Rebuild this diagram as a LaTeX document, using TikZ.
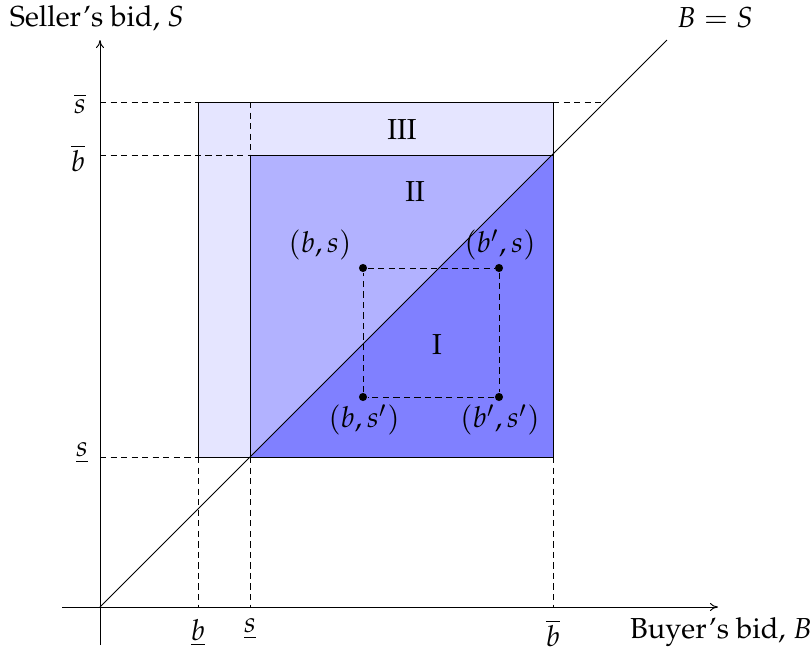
\documentclass[tikz,border=0pt]{standalone}
\usepackage[T1]{fontenc}
\usepackage{mathpazo}
\usetikzlibrary{arrows.meta}
\begin{document}
\begin{tikzpicture}[x=0.37pt,y=-0.37pt,
  font=\fontsize{10.7}{13}\selectfont,
  axis/.style={-{To[length=3pt,width=3pt]},line width=0.35pt},
  guide/.style={dashed,dash pattern=on 2.3pt off 1.6pt,line width=0.35pt},
  edge/.style={line width=0.35pt},
  dot/.style={circle,fill=black,inner sep=0pt,minimum size=3pt},
  lbl/.style={inner sep=1pt}]
\useasboundingbox (0,0) rectangle (810,650);
% key points
\coordinate (O) at (100,607);
\coordinate (sbarY) at (100,102);
\coordinate (bbarY) at (100,155);
\coordinate (sundY) at (100,457);
\coordinate (A1) at (198,102);
\coordinate (A2) at (553,102);
\coordinate (A3) at (553,457);
\coordinate (A4) at (198,457);
\coordinate (B1) at (250,155);
\coordinate (B2) at (553,155);
\coordinate (B4) at (250,457);
\coordinate (C1) at (250,102);
\coordinate (D1) at (605,102);
\coordinate (xb) at (198,607);
\coordinate (xs) at (250,607);
\coordinate (xB) at (553,607);
\coordinate (Lend) at (667,40);
% regions
\fill[blue!10] (A1) rectangle (A3);
\fill[blue!30] (B1) rectangle (A3);
\fill[blue!50] (B4) -- (B2) -- (A3) -- cycle;
\draw[edge] (A1) rectangle (A3);
\draw[edge] (B1) rectangle (A3);
% diagonal
\draw[edge] (O) -- (Lend);
% axes
\draw[axis] (62,607) coordinate (xs0) -- (718,607) coordinate (xe);
\draw[axis] (100,645) coordinate (ys0) -- (100,40) coordinate (ye);
% guides
\draw[guide] (sbarY) -- (A1);
\draw[guide] (A2) -- (D1);
\draw[guide] (bbarY) -- (B1);
\draw[guide] (C1) -- (B1);
\draw[guide] (sundY) -- (A4);
\draw[guide] (A4) -- (xb);
\draw[guide] (B4) -- (xs);
\draw[guide] (A3) -- (xB);
% inner dashed rectangle
\node[dot] (p1) at (363,268) {};
\node[dot] (p2) at (499,268) {};
\node[dot] (p3) at (499,397) {};
\node[dot] (p4) at (363,397) {};
\draw[guide] (p1) -- (p2) -- (p3) -- (p4) -- (p1);
% region labels
\node[lbl] (r3) at (402,130) {III};
\node[lbl] (r2) at (415,192) {II};
\node[lbl] (r1) at (437,345) {I};
% point labels
\node[lbl] (l1) at (320,245) {$(b,s)$};
\node[lbl] (l2) at (500,245) {$(b',s)$};
\node[lbl] (l4) at (364,420) {$(b,s')$};
\node[lbl] (l3) at (500,420) {$(b',s')$};
% axis tick labels
\node[lbl] (ty1) at (80,104) {$\overline{s}$};
\node[lbl] (ty2) at (78,158) {$\overline{b}$};
\node[lbl] (ty3) at (82,453) {$\underline{s}$};
\node[lbl] (tx1) at (198,633) {$\underline{b}$};
\node[lbl] (tx2) at (250,629) {$\underline{s}$};
\node[lbl] (tx3) at (553,633) {$\overline{b}$};
% axis titles
\node[lbl] (ty) at (97,18) {Seller's bid, $S$};
\node[lbl,anchor=west] (tx) at (627,632) {Buyer's bid, $B$};
\node[lbl] (eq) at (715,18) {$B=S$};
\end{tikzpicture}
\end{document}
